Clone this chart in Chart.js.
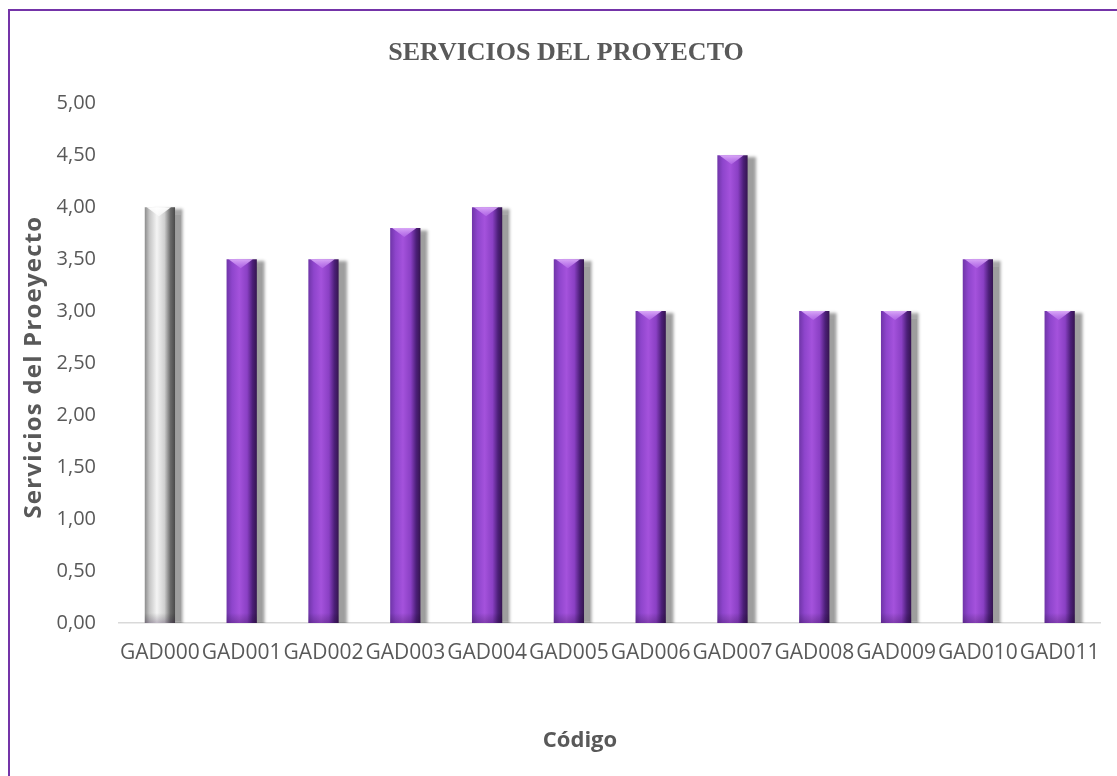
<!DOCTYPE html>
<html>
<head>
<meta charset="utf-8">
<script src="https://cdn.jsdelivr.net/npm/chart.js@4/dist/chart.umd.min.js"></script>
<style>
  html, body { margin: 0; padding: 0; background: #ffffff; }
  #wrap { position: relative; width: 1117px; height: 776px; overflow: hidden; }
  #frame { position: absolute; left: 8px; top: 9px; width: 1200px; height: 900px;
           border: 2px solid #7434a8; box-sizing: border-box; }
  #chart { position: absolute; left: 0; top: 0; }
</style>
</head>
<body>
<div id="wrap">
  <div id="frame"></div>
  <canvas id="chart" width="1117" height="776"></canvas>
</div>
<script>
// Códigos de los GAD evaluados
const categories = ['GAD000', 'GAD001', 'GAD002', 'GAD003', 'GAD004', 'GAD005',
                    'GAD006', 'GAD007', 'GAD008', 'GAD009', 'GAD010', 'GAD011'];
// Puntuación de servicios del proyecto por código
const serviceScores = [4.00, 3.50, 3.50, 3.80, 4.00, 3.50, 3.00, 4.50, 3.00, 3.00, 3.50, 3.00];
// Escala del eje vertical
const yMin = 0;
const yMax = 5;
const yStep = 0.5;

const chartTitle = 'SERVICIOS DEL PROYECTO';
const yTitle = 'Servicios del Proeyecto';
const xTitle = 'Código';

const textGray = '#595959';
const barShare = 0.37;

// Cylinder-like horizontal gradient for each bar, placed via the category scale
function barFill(ctx) {
  const chart = ctx.chart;
  const xs = chart.scales && chart.scales.x;
  if (!xs || !isFinite(xs.width) || xs.width <= 0) return '#8e44c8';
  const cx = xs.getPixelForValue(ctx.dataIndex);
  const w = (xs.width / categories.length) * barShare;
  if (!isFinite(cx) || !isFinite(w)) return '#8e44c8';
  const g = chart.ctx.createLinearGradient(cx - w / 2, 0, cx + w / 2, 0);
  if (ctx.dataIndex === 0) {
    g.addColorStop(0.00, '#8c8c8c');
    g.addColorStop(0.15, '#c4c4c4');
    g.addColorStop(0.40, '#f4f4f4');
    g.addColorStop(0.65, '#d0d0d0');
    g.addColorStop(0.85, '#6a6a6a');
    g.addColorStop(1.00, '#4a4a4a');
  } else {
    g.addColorStop(0.00, '#6f35a8');
    g.addColorStop(0.18, '#8e45cc');
    g.addColorStop(0.42, '#a452dc');
    g.addColorStop(0.68, '#8a40c4');
    g.addColorStop(0.86, '#4c1f78');
    g.addColorStop(1.00, '#35154f');
  }
  return g;
}

// Soft drop shadow to the right of the bars, plus a bevelled top cap
const barEffects = {
  id: 'barEffects',
  beforeDatasetDraw(chart) {
    const c = chart.ctx;
    c.save();
    c.shadowColor = 'rgba(0,0,0,0.38)';
    c.shadowBlur = 3;
    c.shadowOffsetX = 8;
    c.shadowOffsetY = 2;
  },
  afterDatasetDraw(chart) {
    chart.ctx.restore();
    const c = chart.ctx;
    const meta = chart.getDatasetMeta(0);
    meta.data.forEach((bar, i) => {
      const p = bar.getProps(['x', 'y', 'width', 'base'], true);
      if (![p.x, p.y, p.width, p.base].every(isFinite)) return;
      const x0 = p.x - p.width / 2;
      const x1 = p.x + p.width / 2;
      const capH = 9;
      c.save();
      const g = c.createLinearGradient(0, p.y, 0, p.y + capH);
      if (i === 0) {
        g.addColorStop(0, '#ffffff');
        g.addColorStop(1, 'rgba(255,255,255,0.6)');
      } else {
        g.addColorStop(0, '#d9a8f7');
        g.addColorStop(1, 'rgba(190,120,240,0.55)');
      }
      c.fillStyle = g;
      c.beginPath();
      c.moveTo(x0 + 2, p.y);
      c.lineTo(x1 - 4, p.y);
      c.lineTo(p.x - 1, p.y + capH);
      c.closePath();
      c.fill();
      // darker foot of the bar
      const fg = c.createLinearGradient(0, p.base - 10, 0, p.base);
      fg.addColorStop(0, 'rgba(0,0,0,0)');
      fg.addColorStop(1, 'rgba(30,0,50,0.25)');
      c.fillStyle = fg;
      c.fillRect(x0, p.base - 10, p.width, 10);
      c.restore();
    });
  }
};

// Axis captions
const axisCaptions = {
  id: 'axisCaptions',
  afterDraw(chart) {
    const c = chart.ctx;
    const area = chart.chartArea;
    c.save();
    c.fillStyle = textGray;
    c.textAlign = 'center';
    c.textBaseline = 'middle';
    c.font = 'bold 22px "Open Sans", sans-serif';
    c.fillText(xTitle, 580, 741);
    c.translate(34, (area.top + area.bottom) / 2 + 4);
    c.rotate(-Math.PI / 2);
    c.font = 'bold 24px "Open Sans", sans-serif';
    c.letterSpacing = '1.2px';
    c.fillText(yTitle, 0, 0);
    c.restore();
  }
};

new Chart(document.getElementById('chart'), {
  type: 'bar',
  data: {
    labels: categories,
    datasets: [{
      data: serviceScores,
      backgroundColor: barFill,
      borderWidth: 0,
      categoryPercentage: 1.0,
      barPercentage: barShare
    }]
  },
  options: {
    responsive: false,
    animation: false,
    layout: { padding: { left: 25, right: 10, top: 0, bottom: 0 } },
    plugins: {
      legend: { display: false },
      tooltip: { enabled: false },
      title: {
        display: true,
        text: chartTitle,
        color: textGray,
        font: { family: '"Liberation Serif", "Times New Roman", serif', size: 26, weight: 'bold' },
        padding: { top: 38, bottom: 34 }
      }
    },
    scales: {
      x: {
        grid: { display: false, drawTicks: false },
        border: { display: true, color: '#d9d9d9', width: 1.5 },
        ticks: {
          color: textGray,
          font: { family: '"Open Sans", sans-serif', size: 21 },
          padding: 17,
          maxRotation: 0,
          autoSkip: false
        },
        afterFit(scale) { scale.height = 153; }
      },
      y: {
        min: yMin,
        max: yMax,
        grid: { display: false, drawTicks: false },
        border: { display: false },
        ticks: {
          stepSize: yStep,
          color: textGray,
          font: { family: '"Open Sans", sans-serif', size: 20 },
          padding: 23,
          callback: (v) => Number(v).toFixed(2).replace('.', ',')
        },
        afterFit(scale) { scale.width = 94; }
      }
    }
  },
  plugins: [barEffects, axisCaptions]
});
</script>
</body>
</html>
